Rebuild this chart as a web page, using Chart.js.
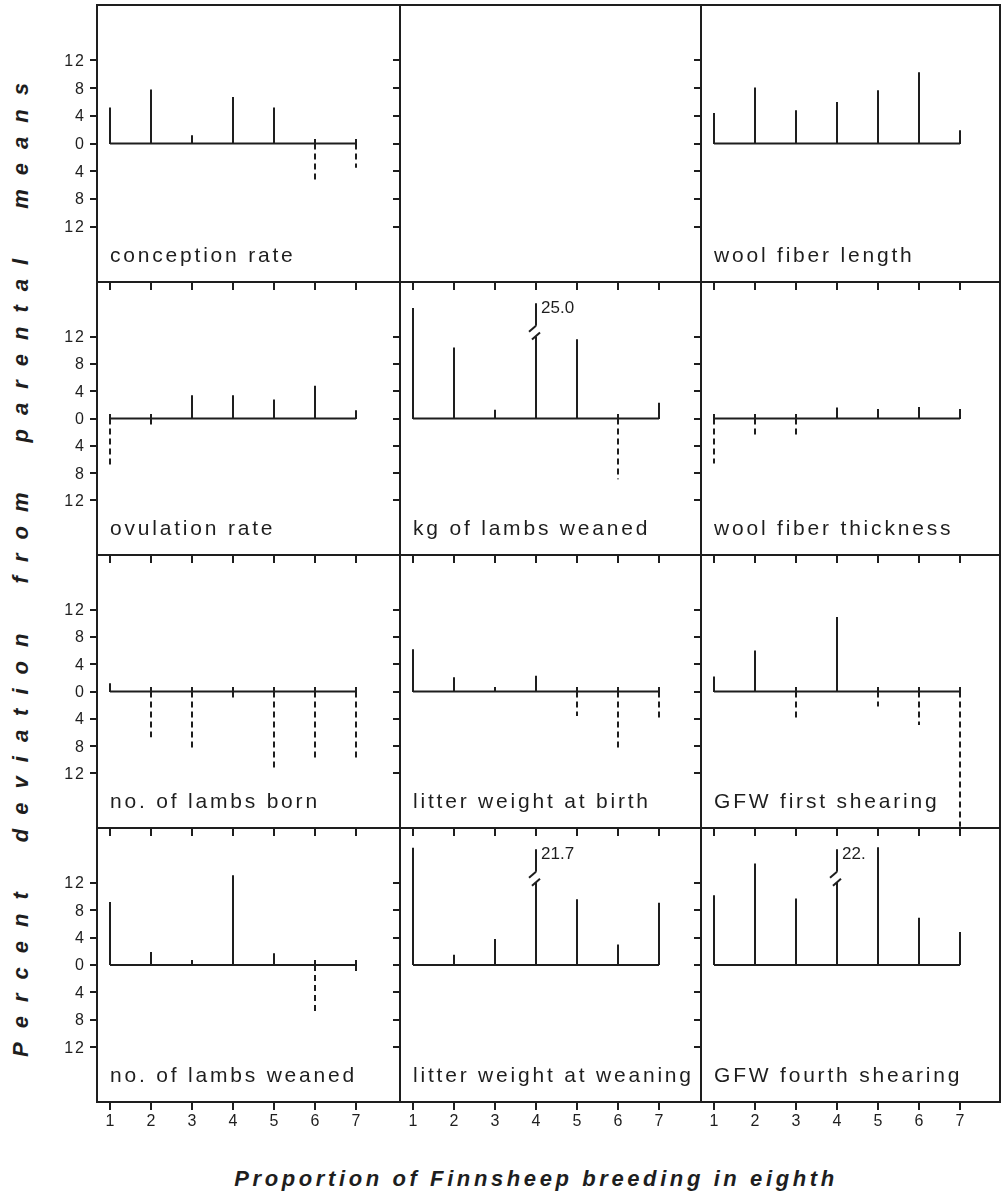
<!DOCTYPE html>
<html>
<head>
<meta charset="utf-8">
<script src="https://cdn.jsdelivr.net/npm/chart.js@4.4.1/dist/chart.umd.min.js"></script>
<style>
    body { margin: 0; background: #fff; width: 1002px; height: 1197px; position: relative; overflow: hidden; }
    canvas { position: absolute; }
    #yTitle {
        position: absolute; left: 21px; top: 563px;
        transform: translate(-50%, -50%) rotate(-90deg);
        white-space: nowrap; color: #1e1e1e;
        font: italic bold 22px "Liberation Sans", Arial, sans-serif;
        letter-spacing: 14px; word-spacing: 16px;
    }
    #xTitle {
        position: absolute; left: 536px; top: 1166px;
        transform: translateX(-50%);
        white-space: nowrap; color: #1e1e1e;
        font: italic bold 22px "Liberation Sans", Arial, sans-serif;
        letter-spacing: 3.6px;
    }
</style>
</head>
<body>
<div id="yTitle">Percent deviation from parental means</div>
<div id="xTitle">Proportion of Finnsheep breeding in eighth</div>
<script>
// x categories (eighths of Finnsheep breeding) and axis tick labels
const categories = [1, 2, 3, 4, 5, 6, 7];
const xTickLabels = ['1', '2', '3', '4', '5', '6', '7'];
const yTicks = [-12, -8, -4, 0, 4, 8, 12];
const yTickLabels = ['12', '8', '4', '0', '4', '8', '12'];

// percent deviation from parental means
const conceptionRate = [5.2, 7.8, 1.2, 6.7, 5.2, -5.6, -3.5];
const woolFiberLength = [4.4, 8.1, 4.8, 6.0, 7.7, 10.3, 1.9];
const ovulationRate = [-6.8, -1.0, 3.4, 3.4, 2.8, 4.8, 1.2];
const kgLambsWeaned = [16.2, 10.4, 1.3, 25.0, 11.6, -8.9, 2.3];
const woolFiberThickness = [-6.6, -2.7, -2.7, 1.6, 1.4, 1.7, 1.4];
const lambsBorn = [1.2, -6.7, -8.4, -1.3, -11.4, -10.0, -10.1];
const litterWeightBirth = [6.2, 2.1, 0.6, 2.3, -3.6, -8.7, -4.4];
const gfwFirstShearing = [2.2, 6.0, -4.2, 10.9, -2.2, -4.9, -19.8];
const lambsWeaned = [9.2, 1.9, 0.6, 13.1, 1.7, -7.3, -1.2];
const litterWeightWeaning = [17.1, 1.5, 3.8, 21.7, 9.6, 3.0, 9.1];
const gfwFourthShearing = [10.2, 14.8, 9.7, 22.0, 17.2, 6.9, 4.8];

// off-scale stems are drawn with a break
const breakLabels = { kgLambsWeaned: '25.0', litterWeightWeaning: '21.7', gfwFourthShearing: '22.' };

const INK = '#1e1e1e';
const colX = [97, 400, 701, 1000];
const rowY = [5, 282, 555, 828, 1102];
const xStep = 41;      // px between categories
const xInset = 13;     // px from panel edge to first category
const breakLow = 12, breakHigh = 13.6, breakTop = 16.9;
const negDash = [6, 4];

const panels = [
    { key: 'conceptionRate', title: 'conception rate', values: conceptionRate, row: 0, col: 0 },
    { key: 'empty', title: '', values: null, row: 0, col: 1 },
    { key: 'woolFiberLength', title: 'wool fiber length', values: woolFiberLength, row: 0, col: 2 },
    { key: 'ovulationRate', title: 'ovulation rate', values: ovulationRate, row: 1, col: 0 },
    { key: 'kgLambsWeaned', title: 'kg of lambs weaned', values: kgLambsWeaned, row: 1, col: 1, breakAt: 3 },
    { key: 'woolFiberThickness', title: 'wool fiber thickness', values: woolFiberThickness, row: 1, col: 2 },
    { key: 'lambsBorn', title: 'no. of lambs born', values: lambsBorn, row: 2, col: 0 },
    { key: 'litterWeightBirth', title: 'litter weight at birth', values: litterWeightBirth, row: 2, col: 1 },
    { key: 'gfwFirstShearing', title: 'GFW first shearing', values: gfwFirstShearing, row: 2, col: 2 },
    { key: 'lambsWeaned', title: 'no. of lambs weaned', values: lambsWeaned, row: 3, col: 0 },
    { key: 'litterWeightWeaning', title: 'litter weight at weaning', values: litterWeightWeaning, row: 3, col: 1, breakAt: 3 },
    { key: 'gfwFourthShearing', title: 'GFW fourth shearing', values: gfwFourthShearing, row: 3, col: 2, breakAt: 3 }
];

// positive stems (solid), with the broken one split in two
function upStems(values, breakAt) {
    const pts = [];
    values.forEach((v, i) => {
        const x = categories[i];
        if (i === breakAt) {
            pts.push({ x, y: 0 }, { x, y: breakLow }, { x, y: null }, { x, y: breakHigh }, { x, y: breakTop }, { x, y: null });
        } else if (v >= 0) {
            pts.push({ x, y: 0 }, { x, y: v }, { x, y: null });
        }
    });
    return pts;
}

// negative stems (dashed)
function downStems(values) {
    const pts = [];
    values.forEach((v, i) => {
        if (v < 0) pts.push({ x: categories[i], y: 0 }, { x: categories[i], y: v }, { x: categories[i], y: null });
    });
    return pts;
}

function line(ctx, x1, y1, x2, y2) {
    ctx.beginPath();
    ctx.moveTo(x1, y1);
    ctx.lineTo(x2, y2);
    ctx.stroke();
}

const framePlugin = {
    id: 'frame',
    afterDraw(chart, args, opts) {
        const p = opts.panel;
        const { ctx, chartArea: a, scales } = chart;
        const xs = scales.x, ys = scales.y;
        ctx.save();
        ctx.strokeStyle = INK;
        ctx.fillStyle = INK;
        ctx.lineWidth = 2;
        ctx.setLineDash([]);
        ctx.strokeRect(a.left, a.top, a.right - a.left, a.bottom - a.top);

        // y ticks on left edge (outward)
        yTicks.forEach(t => {
            const py = Math.round(ys.getPixelForValue(t));
            line(ctx, a.left - 7, py, a.left, py);
        });
        // x ticks on bottom edge (outward)
        categories.forEach(c => {
            const px = Math.round(xs.getPixelForValue(c));
            line(ctx, px, a.bottom, px, a.bottom + 8);
        });

        ctx.letterSpacing = '2px';
        ctx.font = '16px "Liberation Sans", Arial, sans-serif';
        if (p.col === 0) {
            ctx.textAlign = 'right';
            ctx.textBaseline = 'middle';
            yTicks.forEach((t, i) => {
                ctx.fillText(yTickLabels[i], a.left - 11, ys.getPixelForValue(t) + 1);
            });
        }
        if (p.row === 3) {
            ctx.textAlign = 'center';
            ctx.textBaseline = 'top';
            categories.forEach((c, i) => {
                ctx.fillText(xTickLabels[i], xs.getPixelForValue(c) + 1, a.bottom + 12);
            });
        }

        if (p.values) {
            // short marks on the zero line at each category
            const y0 = Math.round(ys.getPixelForValue(0));
            categories.forEach(c => {
                const px = Math.round(xs.getPixelForValue(c));
                line(ctx, px, y0, px, y0 - 5);
            });

            if (p.breakAt !== undefined) {
                const px = Math.round(xs.getPixelForValue(categories[p.breakAt]));
                const yl = ys.getPixelForValue(breakLow);
                const yh = ys.getPixelForValue(breakHigh);
                const yt = ys.getPixelForValue(breakTop);
                line(ctx, px - 4, yl + 3, px + 4, yl - 4);
                line(ctx, px, yh, px - 7, yh + 6);
                ctx.letterSpacing = '0px';
                ctx.font = '17px "Liberation Sans", Arial, sans-serif';
                ctx.textAlign = 'left';
                ctx.textBaseline = 'top';
                ctx.fillText(breakLabels[p.key], px + 5, yt - 3);
            }
        }

        if (p.title) {
            ctx.letterSpacing = '2.8px';
            ctx.font = '21px "Liberation Sans", Arial, sans-serif';
            ctx.textAlign = 'left';
            ctx.textBaseline = 'alphabetic';
            ctx.fillText(p.title, a.left + 13, a.bottom - 20);
        }
        ctx.restore();
    }
};

panels.forEach(p => {
    const padL = p.col === 0 ? 97 : 12;
    const padR = 12;
    const padT = 5;
    const padB = p.row === 3 ? 40 : 12;
    const panelW = colX[p.col + 1] - colX[p.col];
    const w = panelW + padL + padR;
    const h = rowY[p.row + 1] - rowY[p.row] + padT + padB;
    const xMin = categories[0] - xInset / xStep;
    const xMax = xMin + panelW / xStep;

    const canvas = document.createElement('canvas');
    canvas.width = w;
    canvas.height = h;
    canvas.style.width = w + 'px';
    canvas.style.height = h + 'px';
    canvas.style.left = (colX[p.col] - padL) + 'px';
    canvas.style.top = (rowY[p.row] - padT) + 'px';
    document.body.appendChild(canvas);

    const datasets = [];
    if (p.values) {
        datasets.push({
            label: 'zero line',
            data: [{ x: categories[0], y: 0 }, { x: categories[categories.length - 1], y: 0 }],
            borderColor: INK,
            borderWidth: 2,
            pointRadius: 0
        });
        datasets.push({
            label: p.title + ' (above)',
            data: upStems(p.values, p.breakAt),
            borderColor: INK,
            borderWidth: 2,
            pointRadius: 0,
            spanGaps: false
        });
        datasets.push({
            label: p.title + ' (below)',
            data: downStems(p.values),
            borderColor: INK,
            borderWidth: 2,
            borderDash: negDash,
            pointRadius: 0,
            spanGaps: false
        });
    }

    new Chart(canvas, {
        type: 'line',
        data: { datasets },
        options: {
            responsive: false,
            animation: false,
            devicePixelRatio: 1,
            layout: { padding: { left: padL, right: padR, top: padT, bottom: padB } },
            plugins: {
                legend: { display: false },
                tooltip: { enabled: false },
                frame: { panel: p }
            },
            scales: {
                x: { type: 'linear', display: false, min: xMin, max: xMax },
                y: { type: 'linear', display: false, min: -20, max: 20 }
            }
        },
        plugins: [framePlugin]
    });
});
</script>
</body>
</html>
